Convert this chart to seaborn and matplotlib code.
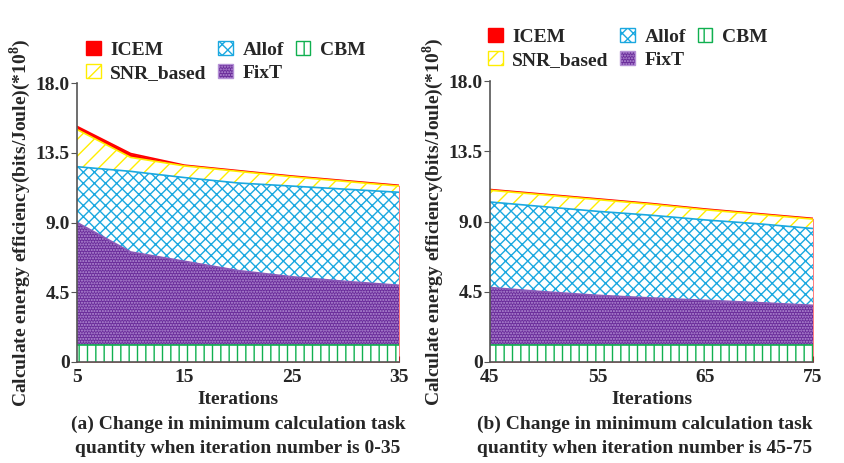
import matplotlib
matplotlib.use('Agg')
import matplotlib.pyplot as plt
import matplotlib.patches as mpatches
import numpy as np
import pandas as pd
import seaborn as sns

# ---- data ----
iters_a = [5, 10, 15, 20, 25, 30, 35]
icem_a = [15.2, 13.45, 12.7, 12.35, 12.0, 11.7, 11.4]
snr_a = [15.0, 13.2, 12.65, 12.3, 11.95, 11.65, 11.35]
allof_a = [12.6, 12.3, 11.9, 11.55, 11.35, 11.15, 10.95]
fixt_a = [9.0, 7.1, 6.5, 5.9, 5.5, 5.2, 4.95]
cbm_a = [1.1, 1.1, 1.1, 1.1, 1.1, 1.1, 1.1]

iters_b = [45, 50, 55, 60, 65, 70, 75]
icem_b = [11.05, 10.75, 10.45, 10.15, 9.8, 9.5, 9.2]
snr_b = [11.0, 10.7, 10.4, 10.1, 9.75, 9.45, 9.15]
allof_b = [10.25, 9.95, 9.65, 9.4, 9.1, 8.85, 8.55]
fixt_b = [4.77, 4.5, 4.27, 4.1, 3.95, 3.8, 3.63]
cbm_b = [1.1, 1.1, 1.1, 1.1, 1.1, 1.1, 1.1]

yticks = [0, 4.5, 9.0, 13.5, 18.0]
ytick_labels = ['0', '4.5', '9.0', '13.5', '18.0']
xticks_a = [5, 15, 25, 35]
xticks_b = [45, 55, 65, 75]

captions = ['(a) Change in minimum calculation task\nquantity when iteration number is 0-35',
            '(b) Change in minimum calculation task\nquantity when iteration number is 45-75']

sns.set_style('ticks')
plt.rcParams['font.family'] = ['Liberation Serif', 'DejaVu Serif']
plt.rcParams['font.weight'] = 'bold'
plt.rcParams['mathtext.fontset'] = 'custom'
plt.rcParams['mathtext.rm'] = 'Liberation Serif:bold'
plt.rcParams['hatch.linewidth'] = 1.0

# name, face, hatch colour, hatch, edge line colour
styles = [
    ('ICEM', '#ff0000', '#ff0000', None, '#ff0000'),
    ('SNR_based', 'white', '#ffee00', '//', '#ffee00'),
    ('Allof', 'white', '#1aa8e0', 'xxx', '#1aa8e0'),
    ('FixT', '#6a2c9a', '#b591d6', '......', '#8a5ab8'),
    ('CBM', 'white', '#10b050', '||', '#10b050'),
]


def draw_panel(ax, x, series, xticks):
    df = pd.DataFrame({'iter': x})
    for i, ((name, face, hcol, hatch, lcol), y) in enumerate(zip(styles, series)):
        df[name] = y
        ax.fill_between(x, 0, y, facecolor=face, edgecolor=hcol, hatch=hatch,
                        linewidth=0, zorder=1 + i)
        sns.lineplot(data=df, x='iter', y=name, color=lcol, linewidth=1.2,
                     ax=ax, zorder=1.5 + i)
    ax.set_xlim(x[0], x[-1])
    ax.set_ylim(0, 18)
    ax.set_yticks(yticks)
    ax.set_yticklabels(ytick_labels)
    ax.set_xticks(xticks)
    ax.tick_params(axis='y', direction='out', length=4, labelsize=14, pad=1, color='#555555')
    ax.tick_params(axis='x', direction='in', length=4, labelsize=14, pad=5, color='#555555')
    for s in ['top', 'right']:
        ax.spines[s].set_visible(False)
    for s in ['left', 'bottom']:
        ax.spines[s].set_color('#555555')
        ax.spines[s].set_linewidth(1.2)
        ax.spines[s].set_zorder(10)
    ax.set_xlabel('Iterations', fontsize=14, fontweight='bold', labelpad=4)
    ax.set_ylabel('Calculate energy efficiency(bits/Joule)(*10$^{8}$)',
                  fontsize=14, fontweight='bold', labelpad=2)


fig = plt.figure(figsize=(8.45, 4.63), dpi=100)
ax1 = fig.add_axes([77 / 845, 101 / 463, 322 / 845, 279 / 463])
ax2 = fig.add_axes([490 / 845, 101 / 463, 323 / 845, 281 / 463])

draw_panel(ax1, iters_a, [icem_a, snr_a, allof_a, fixt_a, cbm_a], xticks_a)
draw_panel(ax2, iters_b, [icem_b, snr_b, allof_b, fixt_b, cbm_b], xticks_b)

handles = [mpatches.Patch(facecolor=face, edgecolor=hcol, hatch=hatch, linewidth=1.0, label=name)
           for name, face, hcol, hatch, lcol in styles]

for ax, (lx, ly) in [(ax1, (86, 41)), (ax2, (488, 28))]:
    fig.legend(handles=handles, ncol=3, frameon=False, loc='upper left',
               bbox_to_anchor=(lx / 845, 1 - ly / 463), borderpad=0, borderaxespad=0,
               handlelength=0.75, handleheight=0.75, handletextpad=0.5,
               labelspacing=0.25, columnspacing=0.6,
               prop={'family': 'Liberation Serif', 'weight': 'bold', 'size': 14})

fig.text(238 / 845, 1 - 436 / 463, captions[0], ha='center', va='center',
         fontsize=14, fontweight='bold', linespacing=1.55)
fig.text(645 / 845, 1 - 436 / 463, captions[1], ha='center', va='center',
         fontsize=14, fontweight='bold', linespacing=1.55)

fig.savefig('out.png', dpi=100)
